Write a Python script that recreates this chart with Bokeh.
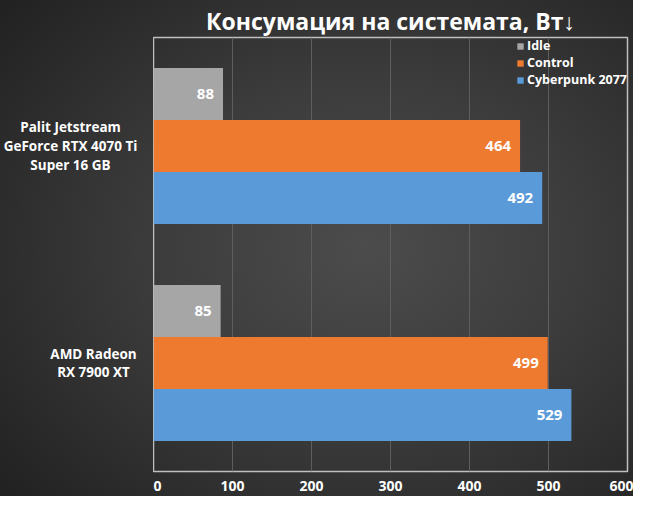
from bokeh.plotting import figure
from bokeh.models import ColumnDataSource, FactorRange, Range1d, FixedTicker, Legend
from bokeh.layouts import row
from bokeh.transform import dodge
from bokeh.embed import file_html
from bokeh.resources import INLINE
from bokeh.core.properties import value

groups = ["AMD Radeon\nRX 7900 XT", "Palit Jetstream\nGeForce RTX 4070 Ti\nSuper 16 GB"]
idle = [85, 88]
control = [499, 464]
cyberpunk = [529, 492]
series_names = ["Idle", "Control", "Cyberpunk 2077"]
x_ticks = [0, 100, 200, 300, 400, 500, 600]

FONT = "Open Sans"
colors = ["#a6a6a6", "#ee7a30", "#5b9ad8"]
BORDER = "#313131"
TOP, BOTTOM = 37, 25

src = ColumnDataSource(dict(group=groups, idle=idle, control=control, cyberpunk=cyberpunk,
                            idle_t=[str(v) for v in idle],
                            control_t=[str(v) for v in control],
                            cyberpunk_t=[str(v) for v in cyberpunk]))

yr = FactorRange(factors=groups, range_padding=0)

p = figure(width=480, height=496, y_range=yr,
           x_range=Range1d(0, 600), output_backend="svg", toolbar_location=None,
           min_border_left=0, min_border_right=6, min_border_top=TOP, min_border_bottom=BOTTOM)

p.background_fill_alpha = 0
p.border_fill_alpha = 0
p.outline_line_color = "#bfbfbf"
p.outline_line_width = 1.5

p.title.text = "Консумация на системата, Вт↓"
p.title.align = "center"
p.title.text_color = "white"
p.title.text_font = FONT
p.title.text_font_size = "23px"
p.title.text_font_style = "bold"
p.title.offset = 8
p.title.standoff = 2

offsets = [0.24, 0.0, -0.24]
keys = ["idle", "control", "cyberpunk"]
renderers = []
for key, off, col, name in zip(keys, offsets, colors, series_names):
    r = p.hbar(y=dodge("group", off, range=p.y_range), right=key, left=0, height=0.24,
               source=src, fill_color=col, line_color=None)
    renderers.append((name, [r]))
    p.text(x=key, y=dodge("group", off, range=p.y_range), text=key + "_t", source=src,
           text_align="right", text_baseline="middle", x_offset=-9,
           text_color="white", text_font=value(FONT), text_font_style="bold",
           text_font_size="15px")

legend = Legend(items=renderers, location="top_right")
legend.background_fill_alpha = 0
legend.border_line_color = None
legend.label_text_color = "white"
legend.label_text_font = FONT
legend.label_text_font_style = "bold"
legend.label_text_font_size = "12.5px"
legend.label_text_line_height = 1.0
legend.glyph_width = 8
legend.glyph_height = 8
legend.label_height = 12
legend.spacing = 0
legend.padding = 0
legend.margin = 0
legend.label_standoff = 3
p.add_layout(legend)

p.xaxis.ticker = FixedTicker(ticks=x_ticks)
p.xaxis.axis_line_color = None
p.xaxis.major_tick_line_color = None
p.xaxis.minor_tick_line_color = None
p.xaxis.major_label_text_color = "white"
p.xaxis.major_label_text_font = FONT
p.xaxis.major_label_text_font_style = "bold"
p.xaxis.major_label_text_font_size = "14px"
p.xaxis.major_label_standoff = 3

p.yaxis.visible = False
p.xgrid.grid_line_color = "#5e5e5e"
p.ygrid.grid_line_color = None

# left panel holding the category labels (blocks right-aligned, lines centred)
lab = figure(width=153, height=496, y_range=yr, x_range=Range1d(0, 153),
             output_backend="svg", toolbar_location=None,
             x_axis_location=None, y_axis_location=None,
             min_border_left=0, min_border_right=0, min_border_top=TOP, min_border_bottom=BOTTOM)
lab.background_fill_alpha = 0
lab.border_fill_alpha = 0
lab.outline_line_color = None
lab.grid.visible = False
label_centres = [93, 70]   # horizontal centre of each label block, in pixels
for i, g in enumerate(groups):
    lab.text(x=label_centres[i], y=[g], text=[g], text_align="center",
             text_baseline="middle", text_color="white", text_font=value(FONT),
             text_font_style="bold", text_font_size="13.5px", text_line_height=1.05)

layout = row(lab, p, spacing=0, styles={
    "background-color": BORDER,
    "background-image": "radial-gradient(ellipse 75% 75% at 58% 50%, #4c4c4c 0%, #3c3c3c 45%, #222222 100%)",
})
open("out.html", "w").write(file_html(layout, INLINE))
